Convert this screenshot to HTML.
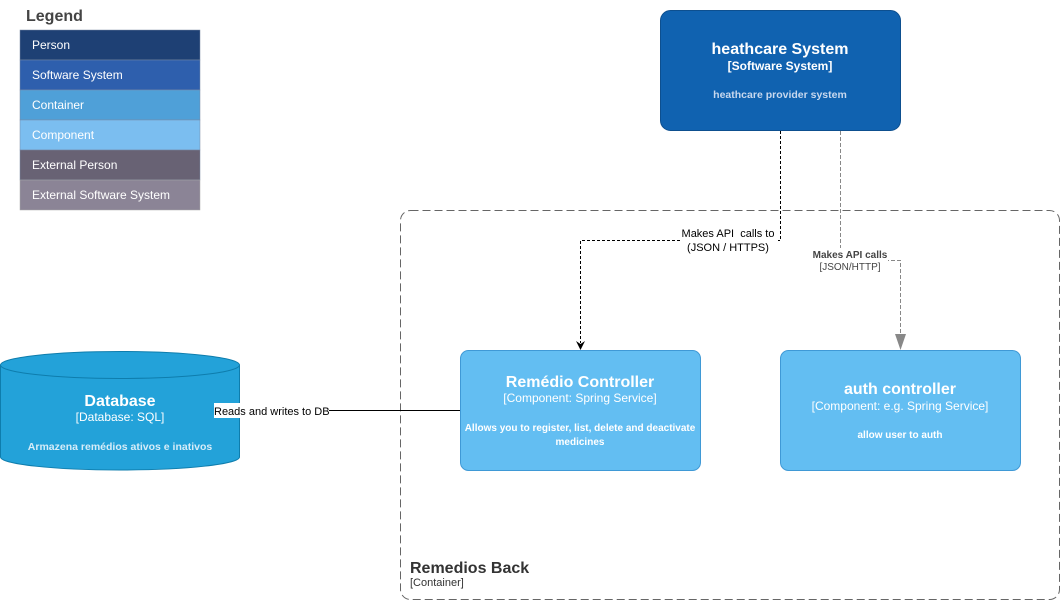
<!DOCTYPE html>
<html><head><meta charset="utf-8"><style>
html,body{margin:0;padding:0;background:#fff;}
svg{display:block;font-family:"Liberation Sans",sans-serif;}
</style></head><body>
<svg width="1061" height="601" viewBox="0 0 1061 601" xmlns="http://www.w3.org/2000/svg">
<text x="26" y="21" font-size="16" font-weight="bold" fill="#444">Legend</text>
<g font-size="12" fill="#fff">
<rect x="20" y="30" width="180" height="30" fill="#1E4074" stroke="#7a8aa5" stroke-width="0.5"/>
<text x="32" y="49">Person</text>
<rect x="20" y="60" width="180" height="30" fill="#2E5FAD" stroke="#7a8aa5" stroke-width="0.5"/>
<text x="32" y="79">Software System</text>
<rect x="20" y="90" width="180" height="30" fill="#4FA0D8" stroke="#7a8aa5" stroke-width="0.5"/>
<text x="32" y="109">Container</text>
<rect x="20" y="120" width="180" height="30" fill="#7BBEF0" stroke="#7a8aa5" stroke-width="0.5"/>
<text x="32" y="139">Component</text>
<rect x="20" y="150" width="180" height="30" fill="#686274" stroke="#7a8aa5" stroke-width="0.5"/>
<text x="32" y="169">External Person</text>
<rect x="20" y="180" width="180" height="30" fill="#8B8496" stroke="#aaa" stroke-width="0.5"/>
<text x="32" y="199">External Software System</text>
</g>

<rect x="400.5" y="210.5" width="659" height="389" rx="10" fill="none" stroke="#666" stroke-dasharray="8 4"/>
<text x="410" y="573" font-size="16" font-weight="bold" fill="#333">Remedios Back</text>
<text x="410" y="586" font-size="11" fill="#333">[Container]</text>

<rect x="660.5" y="10.5" width="240" height="120" rx="10" fill="#1062B0" stroke="#0D4F8F"/>
<text x="780" y="54" font-size="16" font-weight="bold" fill="#fff" text-anchor="middle">heathcare System</text>
<text x="780" y="70" font-size="12" font-weight="bold" fill="#fff" text-anchor="middle">[Software System]</text>
<text x="780" y="98" font-size="10.5" font-weight="bold" fill="#c8d8ee" text-anchor="middle">heathcare provider system</text>

<path d="M0.5,365 L0.5,457 A119.5,13 0 0 0 239.5,457 L239.5,365" fill="#23A2D9" stroke="#0E7DAD"/>
<ellipse cx="120" cy="365" rx="119.5" ry="13.5" fill="#23A2D9" stroke="#0E7DAD"/>
<text x="120" y="406" font-size="16" font-weight="bold" fill="#fff" text-anchor="middle">Database</text>
<text x="120" y="421" font-size="12" fill="#fff" text-anchor="middle">[Database: SQL]</text>
<text x="120" y="450" font-size="10.5" font-weight="bold" fill="#d6ecf8" text-anchor="middle">Armazena remédios ativos e inativos</text>

<rect x="460.5" y="350.5" width="240" height="120" rx="8" fill="#63BEF2" stroke="#3f99d6"/>
<text x="580" y="387" font-size="16" font-weight="bold" fill="#fff" text-anchor="middle">Remédio Controller</text>
<text x="580" y="402" font-size="12" fill="#fff" text-anchor="middle">[Component: Spring Service]</text>
<text x="580" y="431" font-size="10" font-weight="bold" fill="#fff" text-anchor="middle">Allows you to register, list, delete and deactivate</text>
<text x="580" y="445" font-size="10" font-weight="bold" fill="#fff" text-anchor="middle">medicines</text>

<rect x="780.5" y="350.5" width="240" height="120" rx="8" fill="#63BEF2" stroke="#3f99d6"/>
<text x="900" y="394" font-size="16" font-weight="bold" fill="#fff" text-anchor="middle">auth controller</text>
<text x="900" y="410" font-size="12" fill="#fff" text-anchor="middle">[Component: e.g. Spring Service]</text>
<text x="900" y="438" font-size="10" font-weight="bold" fill="#fff" text-anchor="middle">allow user to auth</text>

<line x1="240" y1="410.5" x2="460" y2="410.5" stroke="#000"/>
<rect x="214" y="403" width="115" height="15" fill="#fff"/>
<text x="214" y="415" font-size="11" fill="#000">Reads and writes to DB</text>

<path d="M780.5,131 L780.5,240.5 L580.5,240.5 L580.5,343" fill="none" stroke="#000" stroke-dasharray="3 2"/>
<path d="M576,341 L580.5,350 L585,341 L580.5,344 Z" fill="#000"/>
<rect x="682" y="226" width="96" height="27" fill="#fff"/>
<text x="728" y="237" font-size="11" fill="#000" text-anchor="middle">Makes API&#160; calls to</text>
<text x="728" y="251" font-size="11" fill="#000" text-anchor="middle">(JSON / HTTPS)</text>

<path d="M840.5,131 L840.5,260.5 L900.5,260.5 L900.5,336" fill="none" stroke="#888" stroke-dasharray="4 2"/>
<path d="M895,334 L900.5,350 L906,334 Z" fill="#888"/>
<rect x="812" y="248" width="76" height="24" fill="#fff"/>
<text x="850" y="258" font-size="10" font-weight="bold" fill="#444" text-anchor="middle">Makes API calls</text>
<text x="850" y="270" font-size="10" fill="#444" text-anchor="middle">[JSON/HTTP]</text>
</svg>
</body></html>
